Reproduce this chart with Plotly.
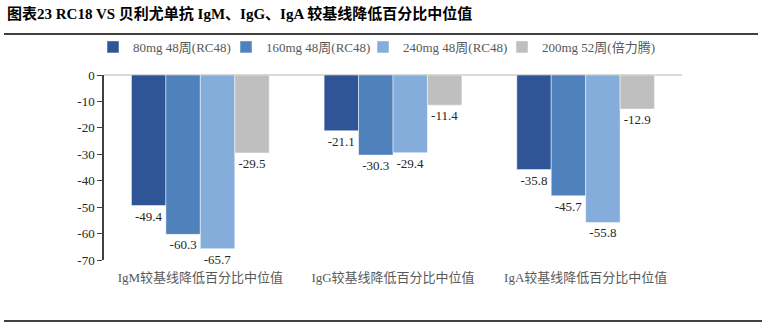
import plotly.graph_objects as go

categories = ["IgM较基线降低百分比中位值", "IgG较基线降低百分比中位值", "IgA较基线降低百分比中位值"]
series_names = ["80mg 48周(RC48)", "160mg 48周(RC48)", "240mg 48周(RC48)", "200mg 52周(倍力腾)"]
series_values = [
    [-49.4, -21.1, -35.8],
    [-60.3, -30.3, -45.7],
    [-65.7, -29.4, -55.8],
    [-29.5, -11.4, -12.9],
]
series_colors = ["#2F5597", "#4F81BD", "#84ADDB", "#BFBFBF"]
y_ticks = [0, -10, -20, -30, -40, -50, -60, -70]

FONT = "Liberation Serif, Noto Sans CJK SC, serif"

W, H = 762, 322
L, R, T, B = 104, 80, 75, 62
pw, ph = W - L - R, H - T - B

def px(x):
    return (x - L) / pw

def py(y):
    return (H - B - y) / ph

legend_ids = ["legend", "legend2", "legend3", "legend4"]
legend_x = [93, 226, 363, 502]

fig = go.Figure()
for name, vals, col, lid in zip(series_names, series_values, series_colors, legend_ids):
    fig.add_trace(go.Bar(
        x=categories, y=vals, name=name,
        marker=dict(color=col, line=dict(color="rgba(255,255,255,0.6)", width=0.8)),
        text=[f"{v:.1f}" for v in vals],
        textposition="outside",
        textfont=dict(family=FONT, size=13, color="#262626"),
        cliponaxis=False,
        legend=lid,
    ))

leg_common = dict(orientation="h", xref="container", yref="container",
                  xanchor="left", y=(H - 47) / H, yanchor="middle",
                  font=dict(family=FONT, size=13, color="#595959"),
                  itemwidth=30, bgcolor="rgba(0,0,0,0)")
legends = {lid: dict(x=lx / W, **leg_common) for lid, lx in zip(legend_ids, legend_x)}

fig.update_layout(
    width=W, height=H,
    margin=dict(l=L, r=R, t=T, b=B, autoexpand=False),
    paper_bgcolor="white", plot_bgcolor="white",
    barmode="group", bargap=0.285, bargroupgap=0,
    font=dict(family=FONT, size=13, color="#595959"),
    showlegend=True,
    xaxis=dict(showline=False, ticks="", showgrid=False, ticklabelstandoff=8,
               tickfont=dict(family=FONT, size=13, color="#595959")),
    yaxis=dict(range=[-70, 0], tickvals=y_ticks, ticktext=[str(v) for v in y_ticks],
               showgrid=False, showline=True, linecolor="#404040", linewidth=1.5,
               ticks="outside", ticklen=5, tickcolor="#404040",
               zeroline=True, zerolinecolor="#D9D9D9", zerolinewidth=1.5,
               tickfont=dict(family=FONT, size=13, color="#262626")),
    annotations=[dict(
        text="<b>图表23 RC18 VS 贝利尤单抗 IgM、IgG、IgA 较基线降低百分比中位值</b>",
        xref="paper", yref="paper", x=px(5), y=py(13), xanchor="left", yanchor="middle",
        showarrow=False, font=dict(family=FONT, size=15, color="#000000"))],
    shapes=[
        dict(type="line", xref="paper", yref="paper", x0=px(4), x1=px(758), y0=py(34), y1=py(34),
             line=dict(color="#000000", width=1.5)),
        dict(type="line", xref="paper", yref="paper", x0=px(4), x1=px(762), y0=py(321), y1=py(321),
             line=dict(color="#000000", width=1.5)),
    ],
    **legends,
)

fig.write_html("out.html")
